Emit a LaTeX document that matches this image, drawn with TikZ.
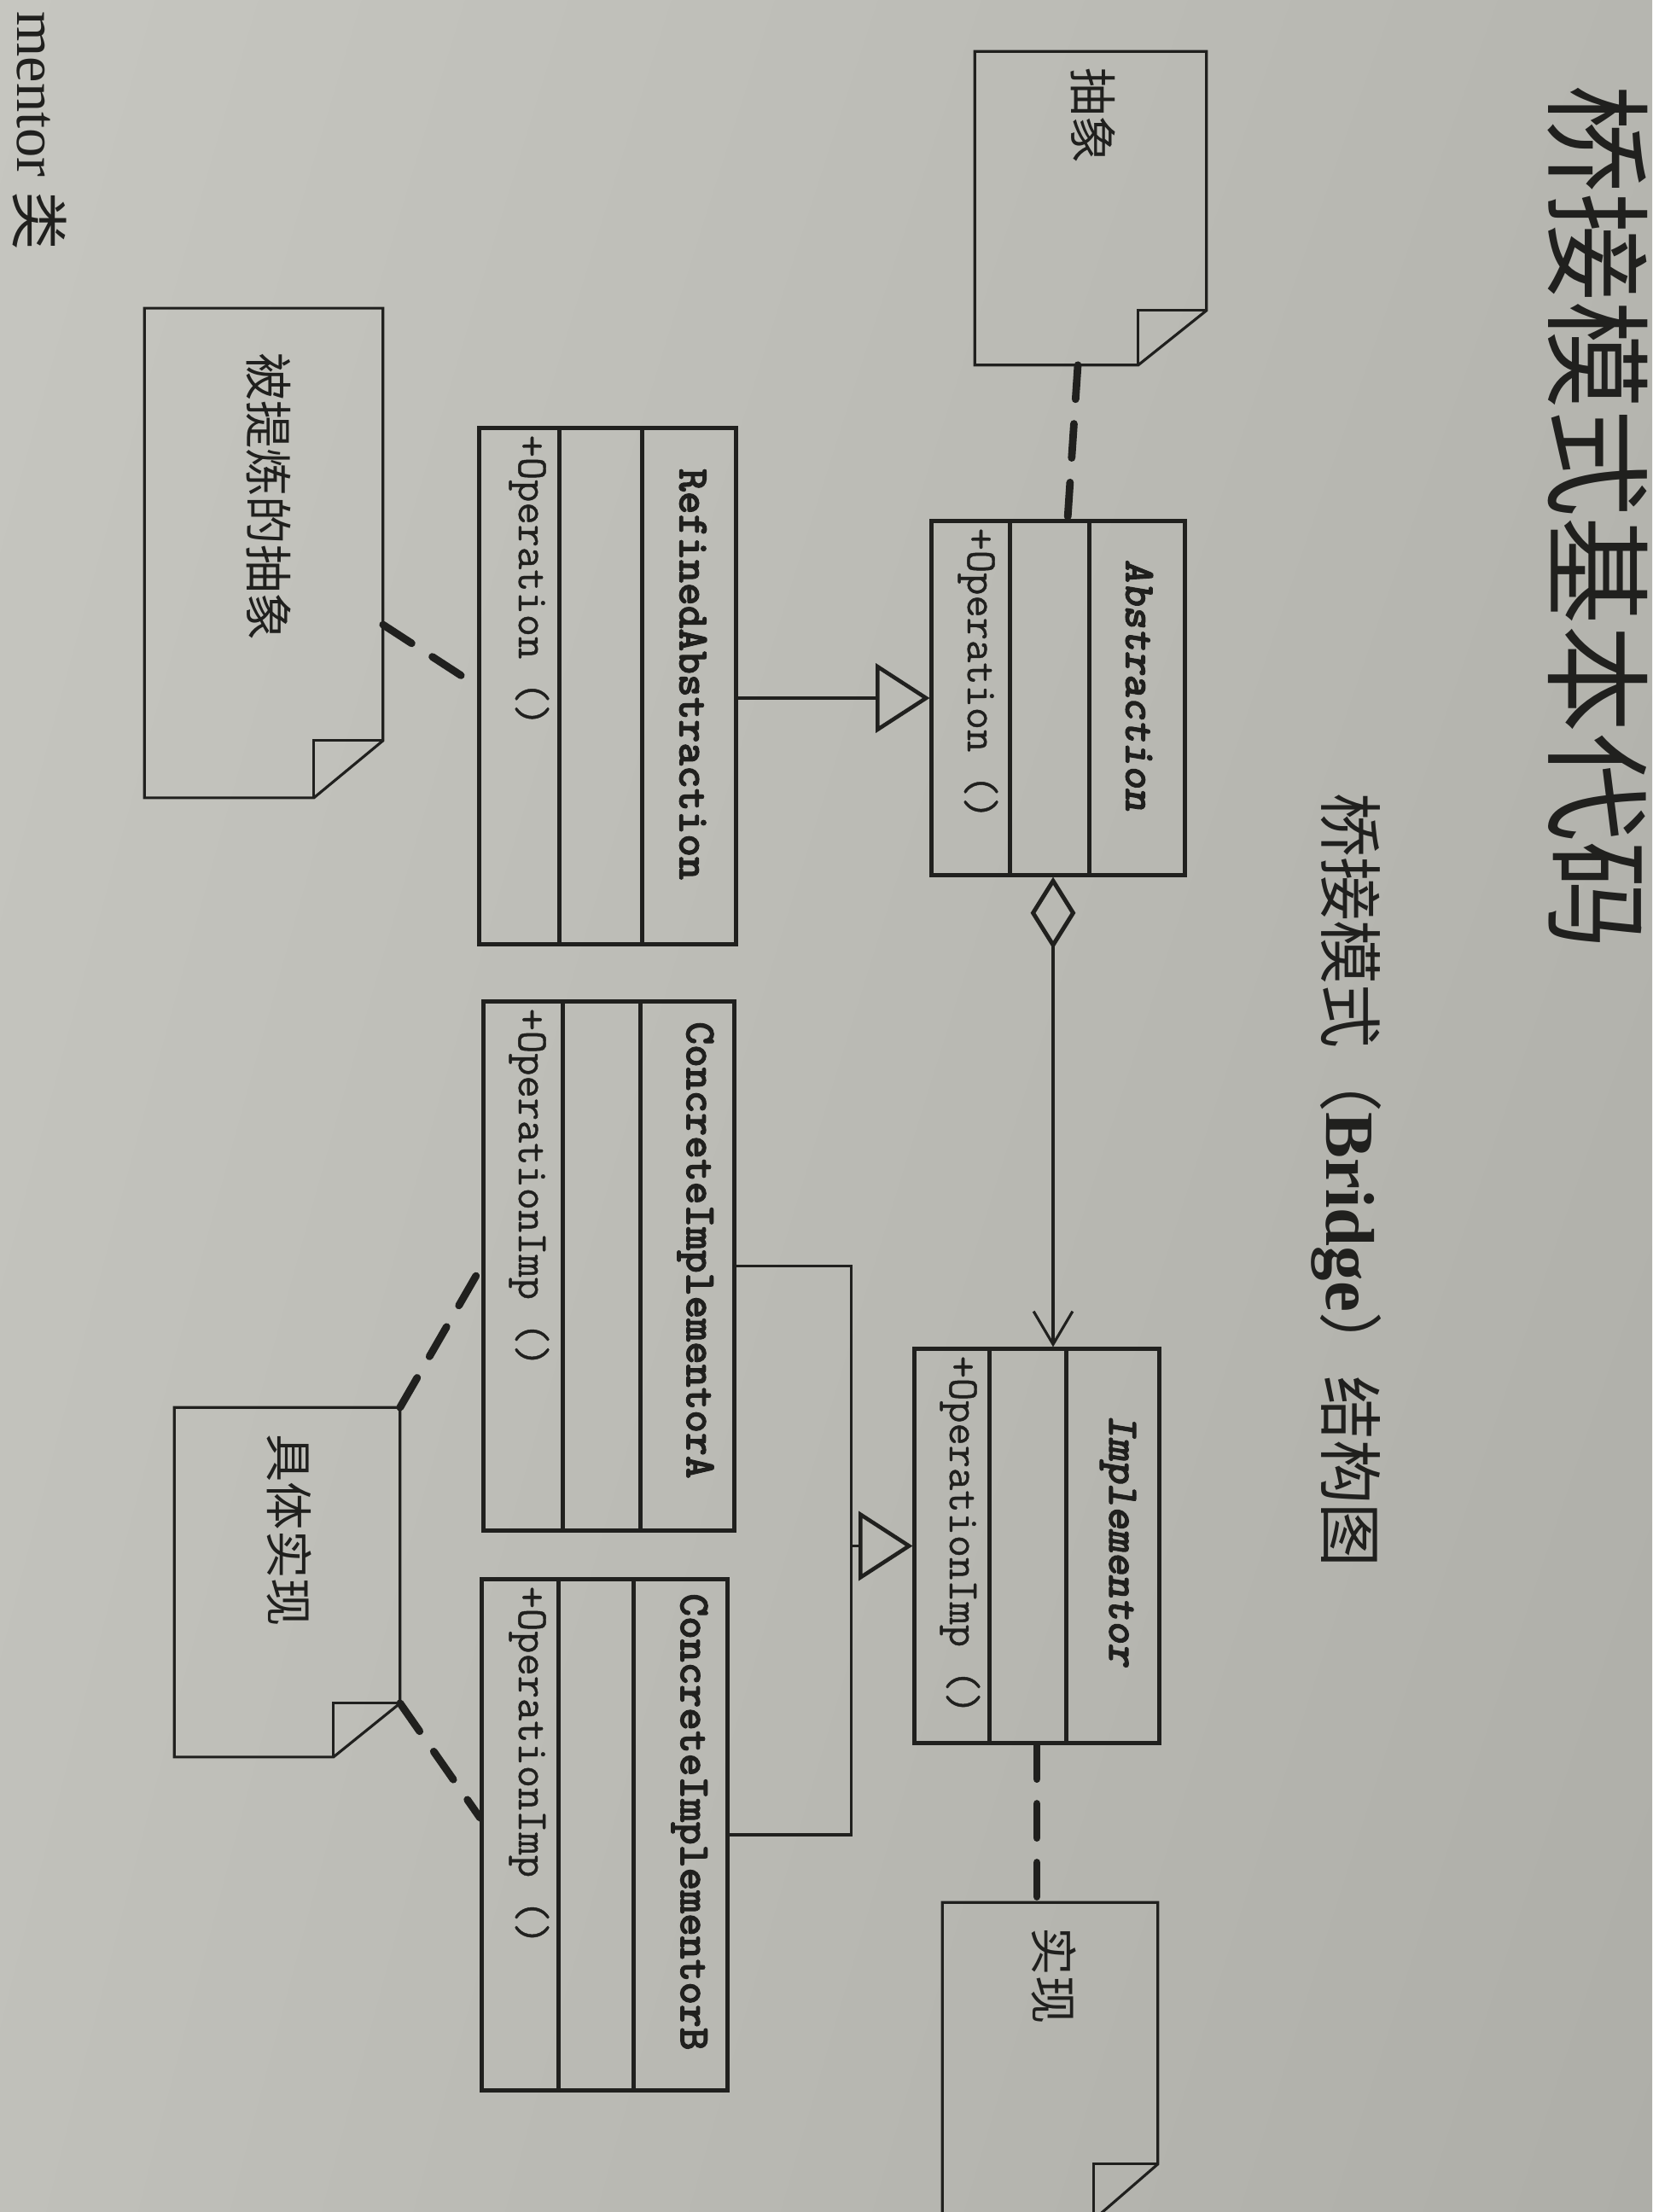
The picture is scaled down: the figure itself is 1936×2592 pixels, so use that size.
\documentclass[tikz,border=0pt]{standalone}
\usepackage{fontspec}
\usetikzlibrary{calc,arrows.meta,shadings}

\newfontfamily\cjkfont{Noto Sans CJK SC}
\newfontfamily\latinserif{Liberation Serif}
\newfontfamily\opfont[FakeBold=0.8]{Latin Modern Mono}
\newfontfamily\clsfont[FakeBold=2]{lmmonolt10-bold.otf}
\newfontfamily\clsitfont[FakeBold=2]{lmmonolt10-boldoblique.otf}

\definecolor{inkc}{RGB}{32,32,30}
\definecolor{paperA}{RGB}{198,198,192}
\definecolor{paperB}{RGB}{182,182,176}
\definecolor{paperC}{RGB}{192,192,186}
\definecolor{paperD}{RGB}{174,174,168}

\tikzset{
  classbox/.style={draw=inkc, line width=1.4pt, inner sep=0pt, rectangle},
  sepline/.style={draw=inkc, line width=1.4pt},
  notebox/.style={inner sep=0pt, rectangle},
  noteline/.style={draw=inkc, line width=0.9pt, line join=miter},
  clsname/.style={rotate=-90, inner sep=0pt, text=inkc, font=\clsfont\fontsize{14.5}{17}\selectfont},
  clsnameit/.style={clsname, font=\clsitfont\fontsize{14.5}{17}\selectfont},
  clsop/.style={rotate=-90, inner sep=0pt, anchor=west, text=inkc, font=\opfont\fontsize{14.5}{17}\selectfont},
  notetext/.style={rotate=-90, inner sep=0pt, text=inkc, font=\cjkfont\fontsize{16}{18}\selectfont},
  dashlink/.style={draw=inkc, line width=2.5pt, line cap=round, dash pattern=on 11.4pt off 8.2pt},
  genline/.style={draw=inkc, line width=0.9pt},
  gentip/.style={-{Triangle[open, length=18pt, width=23pt, line width=1.3pt]}},
}

% note outline with a folded lower-right corner: node, fold width, fold height
\newcommand{\drawnote}[3]{%
  \draw[noteline] (#1.north west) -- (#1.north east) -- ($(#1.south east)+(0,-#3)$)
    -- ($(#1.south east)+(-#2,0)$) -- (#1.south west) -- cycle;
  \draw[noteline] ($(#1.south east)+(-#2,0)$) -- ($(#1.south east)+(-#2,-#3)$)
    -- ($(#1.south east)+(0,-#3)$);
}
% the two compartment separators of a class box
\newcommand{\classseps}[3]{%
  \draw[sepline] ($(#1.north west)+(#2,0)$) -- ($(#1.south west)+(#2,0)$);
  \draw[sepline] ($(#1.north west)+(#3,0)$) -- ($(#1.south west)+(#3,0)$);
}

\begin{document}
\begin{tikzpicture}[x=0.01cm, y=-0.01cm]
\useasboundingbox (0,0) rectangle (1936,2592);
\shade[upper left=paperA, upper right=paperB, lower left=paperC, lower right=paperD]
  (0,0) rectangle (1936,2592);

% headings
\node[rotate=-90, inner sep=0pt, text=inkc, font=\cjkfont\fontsize{36}{40}\selectfont]
  (title) at (1872,606) {桥接模式基本代码};
\node[rotate=-90, inner sep=0pt, text=inkc, font=\cjkfont\fontsize{21.3}{24}\selectfont]
  (subtitle) at (1578,1383)
  {桥接模式（{\latinserif\bfseries\fontsize{23}{26}\selectfont Bridge}）结构图};
\node[rotate=-90, inner sep=0pt, anchor=base east, text=inkc,
  font=\latinserif\fontsize{19.5}{22}\selectfont]
  (edge) at (20,294) {mentor {\cjkfont 类}};

% classes
\node[classbox, minimum width=2.96cm, minimum height=4.14cm] (abs) at (1240,818) {};
\classseps{abs}{94}{187}
\node[clsnameit] (absname) at (1335,803) {Abstraction};
\node[clsop] (absop) at (1146,618) {+Operation ()};

\node[classbox, minimum width=3.00cm, minimum height=6.04cm] (ra) at (712,804) {};
\classseps{ra}{96}{193}
\node[clsname] (raname) at (812,790) {RefinedAbstraction};
\node[clsop] (raop) at (620,509) {+Operation ()};

\node[classbox, minimum width=2.86cm, minimum height=4.61cm] (impl) at (1215,1811.5) {};
\classseps{impl}{90}{180}
\node[clsnameit] (implname) at (1310,1805) {Implementor};
\node[clsop] (implop) at (1125,1588) {+OperationImp ()};

\node[classbox, minimum width=2.93cm, minimum height=6.19cm] (cia) at (713.5,1483.5) {};
\classseps{cia}{95}{186}
\node[clsname] (cianame) at (815,1465) {ConcreteImplementorA};
\node[clsop] (ciaop) at (620,1181) {+OperationImp ()};

\node[classbox, minimum width=2.87cm, minimum height=5.98cm] (cib) at (708.5,2150) {};
\classseps{cib}{92}{180}
\node[clsname] (cibname) at (808,2135) {ConcreteImplementorB};
\node[clsop] (cibop) at (620,1858) {+OperationImp ()};

% notes
\node[notebox, minimum width=2.70cm, minimum height=3.66cm] (n1) at (1278,244) {};
\drawnote{n1}{80}{64}
\node[notetext] (n1t) at (1281,136) {抽象};

\node[notebox, minimum width=2.78cm, minimum height=5.72cm] (n2) at (309,648) {};
\drawnote{n2}{81}{67}
\node[notetext] (n2t) at (315,582) {被提炼的抽象};

\node[notebox, minimum width=2.63cm, minimum height=4.08cm] (n3) at (336.5,1854) {};
\drawnote{n3}{78}{63}
\node[notetext] (n3t) at (339,1793) {具体实现};

\node[notebox, minimum width=2.51cm, minimum height=3.70cm] (n4) at (1230.5,2415) {};
\drawnote{n4}{75}{65}
\node[notetext] (n4t) at (1235,2315) {实现};

% generalisations
\draw[genline, gentip] (ra.east |- abs.west) -- (abs.west);
\path (impl.west) ++(-72,0) coordinate (bus);
\draw[genline] (cia.east) -| (bus) |- (cib.east);
\draw[genline, gentip] (bus) -- (impl.west);

% aggregation
\draw[genline, {Diamond[open, length=24pt, width=15pt, line width=1.4pt]}-{Straight Barb[length=11pt, width=13pt]}]
  ($(abs.south)+(-6,0)$) -- ($(abs.south |- impl.north)+(-6,0)$);

% note attachments
\draw[dashlink] ($(n1.south)+(-15,0)$) -- ($(abs.north)+(11,0)$);
\draw[dashlink] ($(n2.east)+(0,84)$) -- (ra.west);
\draw[dashlink] (n3.north east) -- (cia.west);
\draw[dashlink] ($(n3.south east)+(0,-63)$) -- ($(cib.west)+(0,-20)$);
\draw[dashlink] (impl.south) -- (impl.south |- n4.north);
\end{tikzpicture}
\end{document}
